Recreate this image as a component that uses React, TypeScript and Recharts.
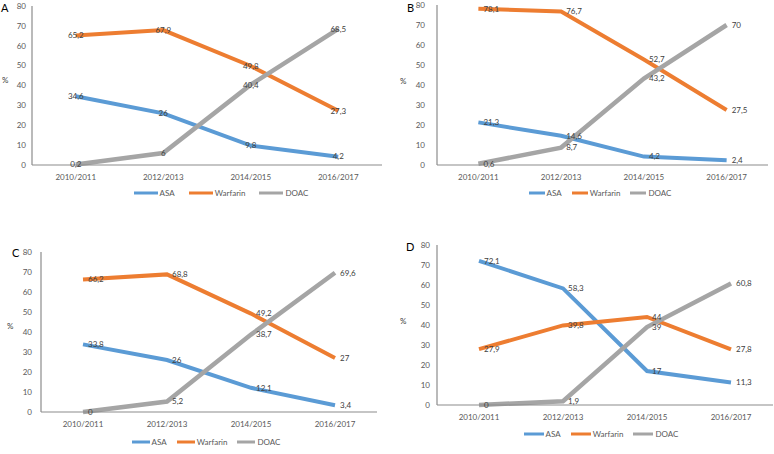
import { LineChart, Line, XAxis, YAxis, Legend, LabelList } from 'recharts';

const periods = ['2010/2011', '2012/2013', '2014/2015', '2016/2017'];
const yTicks = [0, 10, 20, 30, 40, 50, 60, 70, 80];

// panel A
const asaA = [34.6, 26, 9.8, 4.2];
const warfarinA = [65.2, 67.9, 49.8, 27.3];
const doacA = [0.2, 6, 40.4, 68.5];
// panel B
const asaB = [21.3, 14.6, 4.2, 2.4];
const warfarinB = [78.1, 76.7, 52.7, 27.5];
const doacB = [0.6, 8.7, 43.2, 70];
// panel C
const asaC = [33.8, 26, 12.1, 3.4];
const warfarinC = [66.2, 68.8, 49.2, 27];
const doacC = [0, 5.2, 38.7, 69.6];
// panel D
const asaD = [72.1, 58.3, 17, 11.3];
const warfarinD = [27.9, 39.8, 44, 27.8];
const doacD = [0, 1.9, 39, 60.8];

const COLORS = { asa: '#5B9BD5', warfarin: '#ED7D31', doac: '#A5A5A5' };
const FONT = 'Lato, "Open Sans", sans-serif';

const build = (asa: number[], warfarin: number[], doac: number[]) =>
  periods.map((p, i) => ({ period: p, asa: asa[i], warfarin: warfarin[i], doac: doac[i] }));

const fmt = (v: any) => String(v).replace('.', ',');

type PanelProps = {
  letter: string;
  left: number;
  top: number;
  width: number;
  height: number;
  plotLeft: number;
  plotRight: number;
  plotTop: number;
  xAxisH: number;
  legendH: number;
  yTickMargin: number;
  labelPos: 'center' | 'right';
  iconW: number;
  legendGap: number;
  legendShift: number;
  letterPos: [number, number];
  pctPos: [number, number];
  data: ReturnType<typeof build>;
};

function Panel(p: PanelProps) {
  const items = [
    { name: 'ASA', color: COLORS.asa },
    { name: 'Warfarin', color: COLORS.warfarin },
    { name: 'DOAC', color: COLORS.doac },
  ];
  const halfBand = (p.plotRight - p.plotLeft) / 8;

  const legendContent = () => (
    <div
      style={{
        height: p.legendH,
        display: 'flex',
        justifyContent: 'center',
        alignItems: 'flex-start',
        paddingLeft: p.legendShift,
        fontFamily: FONT,
        fontSize: 8,
        color: '#595959',
        gap: p.legendGap,
      }}
    >
      {items.map(it => (
        <div key={it.name} style={{ display: 'flex', alignItems: 'center', height: 14 }}>
          <svg width={p.iconW} height={4} style={{ marginRight: 2 }}>
            <line x1={0} y1={2} x2={p.iconW} y2={2} stroke={it.color} strokeWidth={3} />
          </svg>
          <span>{it.name}</span>
        </div>
      ))}
    </div>
  );

  const label = (
    <LabelList
      position={p.labelPos}
      offset={5}
      formatter={fmt}
      style={{ fontFamily: FONT, fontSize: 8, fill: '#404040' }}
    />
  );

  return (
    <div style={{ position: 'absolute', left: p.left, top: p.top, width: p.width, height: p.height }}>
      <span
        style={{
          position: 'absolute', left: p.letterPos[0], top: p.letterPos[1],
          fontFamily: FONT, fontSize: 11, color: '#000', lineHeight: '11px',
        }}
      >
        {p.letter}
      </span>
      <span
        style={{
          position: 'absolute', left: p.pctPos[0], top: p.pctPos[1],
          fontFamily: FONT, fontSize: 8, color: '#404040', lineHeight: '8px',
        }}
      >
        %
      </span>
      <LineChart
        width={p.width}
        height={p.height}
        data={p.data}
        margin={{ top: p.plotTop, right: p.width - p.plotRight, left: 0, bottom: 0 }}
      >
        <XAxis
          dataKey="period"
          height={p.xAxisH}
          padding={{ left: halfBand, right: halfBand }}
          tickLine={false}
          tickSize={0}
          tickMargin={9}
          axisLine={{ stroke: '#8c8c8c', strokeWidth: 1.2 }}
          tick={{ fontFamily: FONT, fontSize: 8, fill: '#595959' }}
        />
        <YAxis
          width={p.plotLeft}
          domain={[0, 80]}
          ticks={yTicks}
          interval={0}
          tickLine={false}
          tickSize={0}
          tickMargin={p.yTickMargin}
          axisLine={{ stroke: '#8c8c8c', strokeWidth: 1.2 }}
          tick={{ fontFamily: FONT, fontSize: 8, fill: '#595959' }}
        />
        <Legend verticalAlign="bottom" content={legendContent} />
        <Line dataKey="asa" name="ASA" stroke={COLORS.asa} strokeWidth={4} dot={false} isAnimationActive={false}>
          {label}
        </Line>
        <Line dataKey="warfarin" name="Warfarin" stroke={COLORS.warfarin} strokeWidth={4} dot={false} isAnimationActive={false}>
          {label}
        </Line>
        <Line dataKey="doac" name="DOAC" stroke={COLORS.doac} strokeWidth={4.5} dot={false} isAnimationActive={false}>
          {label}
        </Line>
      </LineChart>
    </div>
  );
}

export default function App() {
  return (
    <div style={{ position: 'absolute', left: 0, top: 0, width: 774, height: 454, background: '#fff', overflow: 'hidden' }}>
      <Panel
        letter="A" left={0} top={0} width={390} height={200}
        plotLeft={32} plotRight={382} plotTop={6} xAxisH={21} legendH={14}
        yTickMargin={6} labelPos="center" iconW={24} legendGap={14} legendShift={60}
        letterPos={[1, 2]} pctPos={[2, 76]}
        data={build(asaA, warfarinA, doacA)}
      />
      <Panel
        letter="B" left={385} top={0} width={389} height={200}
        plotLeft={52} plotRight={383} plotTop={5} xAxisH={21} legendH={14}
        yTickMargin={12} labelPos="right" iconW={16} legendGap={10} legendShift={47}
        letterPos={[22, 2]} pctPos={[15, 77]}
        data={build(asaB, warfarinB, doacB)}
      />
      <Panel
        letter="C" left={0} top={225} width={390} height={229}
        plotLeft={41} plotRight={377} plotTop={27} xAxisH={23} legendH={19}
        yTickMargin={9} labelPos="right" iconW={18} legendGap={10} legendShift={35}
        letterPos={[12, 22]} pctPos={[7, 97]}
        data={build(asaC, warfarinC, doacC)}
      />
      <Panel
        letter="D" left={385} top={225} width={389} height={229}
        plotLeft={52} plotRight={388} plotTop={20} xAxisH={22} legendH={27}
        yTickMargin={7} labelPos="right" iconW={20} legendGap={10} legendShift={44}
        letterPos={[21, 16]} pctPos={[15, 92]}
        data={build(asaD, warfarinD, doacD)}
      />
    </div>
  );
}
